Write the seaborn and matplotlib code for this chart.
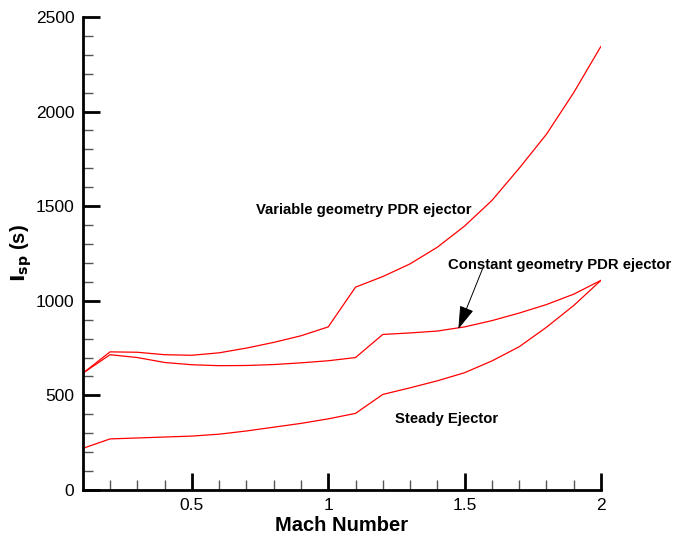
import numpy as np
import pandas as pd
import matplotlib
matplotlib.use("Agg")
import matplotlib.pyplot as plt
from matplotlib.ticker import MultipleLocator
import seaborn as sns

mach = [0.1, 0.2, 0.3, 0.4, 0.5, 0.6, 0.7, 0.8, 0.9, 1.0,
        1.1, 1.2, 1.3, 1.4, 1.5, 1.6, 1.7, 1.8, 1.9, 2.0]
isp_variable = [617, 730, 728, 715, 712, 725, 750, 780, 815, 862,
                1072, 1128, 1195, 1283, 1395, 1530, 1700, 1880, 2100, 2345]
isp_constant = [617, 715, 700, 674, 662, 657, 658, 663, 672, 683,
                700, 822, 830, 840, 862, 895, 935, 980, 1035, 1108]
isp_steady = [220, 270, 275, 280, 285, 295, 312, 332, 352, 376,
              405, 505, 540, 577, 620, 682, 757, 860, 975, 1108]

series_names = ["Variable geometry PDR ejector",
                "Constant geometry PDR ejector",
                "Steady Ejector"]

df = pd.concat([
    pd.DataFrame({"Mach": mach, "Isp": isp_variable, "case": series_names[0]}),
    pd.DataFrame({"Mach": mach, "Isp": isp_constant, "case": series_names[1]}),
    pd.DataFrame({"Mach": mach, "Isp": isp_steady, "case": series_names[2]}),
])

sns.set_style("ticks", {"text.color": "black", "axes.labelcolor": "black",
                        "xtick.color": "black", "ytick.color": "black",
                        "axes.edgecolor": "black"})
plt.rcParams["font.family"] = ["Liberation Sans", "DejaVu Sans"]

fig = plt.figure(figsize=(6.73, 5.37), dpi=100)
ax = fig.add_axes([0.123, 0.0875, 0.770, 0.881])

for name in series_names:
    sns.lineplot(data=df[df["case"] == name], x="Mach", y="Isp",
                 color="#ff0000", linewidth=0.9, estimator=None,
                 sort=False, ax=ax, legend=False)

ax.set_xlim(0.1, 2.0)
ax.set_ylim(0, 2500)
ax.xaxis.set_major_locator(MultipleLocator(0.5))
ax.xaxis.set_minor_locator(MultipleLocator(0.1))
ax.yaxis.set_major_locator(MultipleLocator(500))
ax.yaxis.set_minor_locator(MultipleLocator(100))
ax.set_xticks([0.5, 1.0, 1.5, 2.0])
ax.set_xticklabels(["0.5", "1", "1.5", "2"])

ax.tick_params(which="major", direction="in", length=12, width=2,
               labelsize=12.5, color="black", labelcolor="black", pad=6)
ax.tick_params(which="minor", direction="in", length=7, width=1,
               color="#555555")
sns.despine(ax=ax)
for side in ("left", "bottom"):
    ax.spines[side].set_linewidth(2)

ax.set_xlabel("Mach Number", fontsize=14.5, fontweight="bold", labelpad=2,
              color="black")
ax.set_ylabel(r"$\mathbf{I_{sp}}$ (s)", fontsize=14.5, fontweight="bold",
              labelpad=1, color="black")

ax.text(1.13, 1480, series_names[0], fontsize=10.7, fontweight="bold",
        ha="center", va="center", color="black")
ax.text(1.85, 1189, series_names[1], fontsize=10.7, fontweight="bold",
        ha="center", va="center", clip_on=False, color="black")
ax.text(1.435, 375, series_names[2], fontsize=10.7, fontweight="bold",
        ha="center", va="center", color="black")

ax.annotate("", xy=(1.477, 851), xytext=(1.566, 1170),
            arrowprops=dict(arrowstyle="-|>,head_length=0.8,head_width=0.25",
                            color="black", lw=0.7, mutation_scale=18,
                            shrinkA=0, shrinkB=0))

fig.savefig("out.png", dpi=100)
